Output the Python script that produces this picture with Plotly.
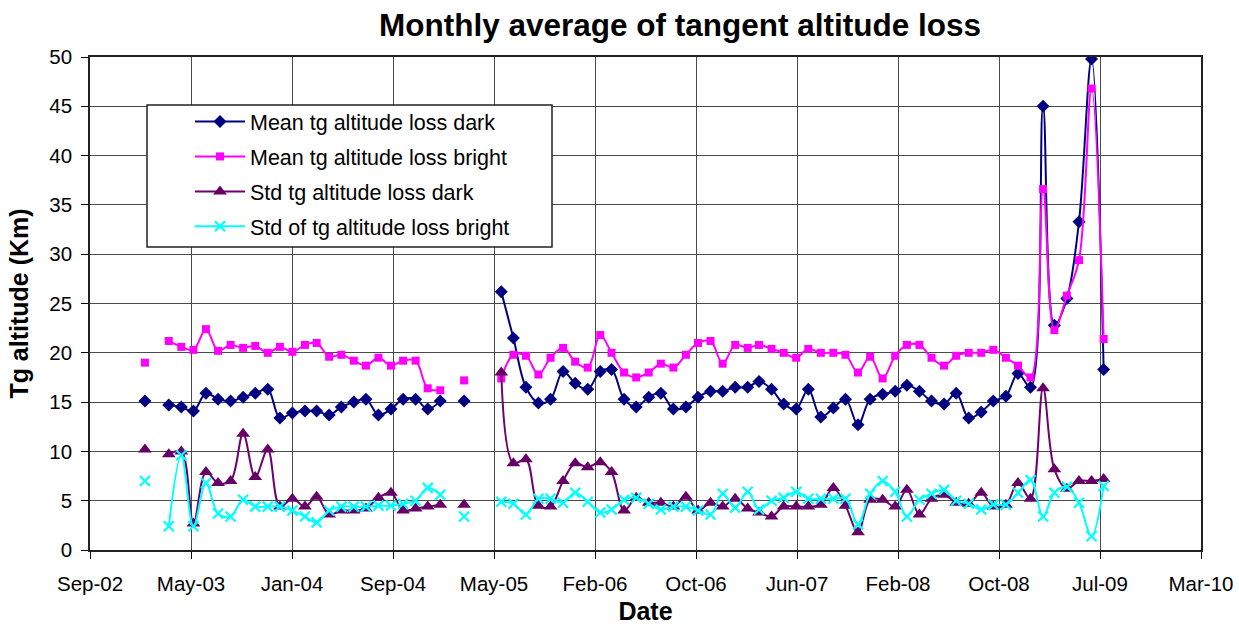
import pandas as pd
import plotly.graph_objects as go

# ---------------- data ----------------
MONTH_START = "2003-01-15"
N_MONTHS = 79  # Jan-03 .. Jul-09, monthly

MEAN_DARK = [
    15.1, None, 14.7, 14.5, 14.1, 15.9, 15.3, 15.1, 15.5, 15.9, 16.3, 13.4,   # 2003
    13.9, 14.1, 14.1, 13.7, 14.5, 15.0, 15.3, 13.7, 14.3, 15.3, 15.3, 14.3,   # 2004
    15.1, None, 15.1, None, None, 26.2, 21.5, 16.5, 14.9, 15.3, 18.1, 16.9,   # 2005
    16.3, 18.1, 18.3, 15.3, 14.5, 15.5, 15.9, 14.3, 14.5, 15.5, 16.1, 16.1,   # 2006
    16.5, 16.5, 17.1, 16.3, 14.8, 14.3, 16.3, 13.5, 14.4, 15.3, 12.7, 15.3,   # 2007
    15.8, 16.1, 16.7, 16.1, 15.1, 14.8, 15.9, 13.4, 14.0, 15.1, 15.6, 17.9,   # 2008
    16.5, 45.0, 22.8, 25.5, 33.3, 49.8, 18.3,                                 # 2009
]
MEAN_BRIGHT = [
    19.0, None, 21.2, 20.6, 20.3, 22.4, 20.2, 20.8, 20.5, 20.7, 20.0, 20.6,
    20.1, 20.8, 21.0, 19.6, 19.8, 19.2, 18.7, 19.5, 18.7, 19.2, 19.2, 16.4,
    16.2, None, 17.2, None, None, 17.4, 19.8, 19.7, 17.8, 19.5, 20.5, 19.1,
    18.5, 21.8, 20.0, 18.0, 17.5, 18.0, 18.9, 18.5, 19.8, 21.0, 21.2, 18.9,
    20.8, 20.5, 20.8, 20.4, 20.0, 19.5, 20.4, 20.0, 20.0, 19.8, 18.0, 19.6,
    17.4, 19.7, 20.8, 20.8, 19.5, 18.7, 19.7, 20.0, 20.0, 20.3, 19.5, 18.7,
    17.5, 36.6, 22.3, 25.8, 29.4, 46.8, 21.4,
]
STD_DARK = [
    10.2, None, 9.7, 10.0, 2.7, 7.9, 6.8, 7.0, 11.8, 7.4, 10.2, 4.4,
    5.2, 4.4, 5.4, 3.6, 4.0, 4.0, 4.2, 5.3, 5.8, 4.0, 4.2, 4.4,
    4.6, None, 4.6, None, None, 18.0, 8.8, 9.2, 4.5, 4.4, 7.0, 8.8,
    8.4, 8.9, 7.9, 4.0, 5.3, 4.8, 4.8, 4.4, 5.4, 4.0, 4.8, 4.4,
    5.2, 4.2, 3.8, 3.4, 4.4, 4.4, 4.4, 4.6, 6.3, 4.5, 1.8, 5.1,
    5.1, 4.4, 6.1, 3.6, 5.2, 5.6, 4.8, 4.7, 5.8, 4.4, 4.6, 6.8,
    5.2, 16.4, 8.2, 6.2, 7.0, 7.0, 7.2,
]
STD_BRIGHT = [
    7.0, None, 2.4, 9.6, 2.4, 6.8, 3.7, 3.4, 5.1, 4.4, 4.4, 4.4,
    4.0, 3.4, 2.8, 4.0, 4.4, 4.4, 4.4, 4.5, 4.5, 4.7, 5.0, 6.3,
    5.6, None, 3.4, None, None, 4.9, 4.7, 3.6, 5.2, 5.2, 4.8, 5.8,
    4.9, 3.8, 4.1, 5.1, 5.3, 4.7, 4.1, 4.4, 4.4, 4.0, 3.6, 5.7,
    4.3, 5.9, 4.1, 5.0, 5.3, 5.9, 5.2, 5.2, 5.2, 5.2, 2.6, 5.7,
    7.0, 5.9, 3.4, 5.1, 5.7, 6.1, 5.0, 4.7, 4.1, 4.6, 4.6, 5.8,
    7.1, 3.4, 5.8, 6.4, 4.8, 1.4, 6.5,
]

SERIES_NAMES = [
    "Mean tg altitude loss dark",
    "Mean tg altitude loss bright",
    "Std tg altitude loss dark",
    "Std of tg altitude loss bright",
]

AXIS_START = "2002-09-01"
TICK_STEP_DAYS = 250
TICK_LABELS = ["Sep-02", "May-03", "Jan-04", "Sep-04", "May-05", "Feb-06",
               "Oct-06", "Jun-07", "Feb-08", "Oct-08", "Jul-09", "Mar-10"]

# ---------------- figure ----------------
dates = pd.date_range(MONTH_START, periods=N_MONTHS, freq=pd.DateOffset(months=1))
start = pd.Timestamp(AXIS_START)
tickvals = [start + pd.Timedelta(days=TICK_STEP_DAYS * k) for k in range(len(TICK_LABELS))]

styles = [
    dict(line=dict(color="#000080", width=2),
         marker=dict(symbol="diamond", size=10, color="#000080")),
    dict(line=dict(color="#FF00FF", width=2),
         marker=dict(symbol="square", size=8, color="#FF00FF")),
    dict(line=dict(color="#700070", width=2),
         marker=dict(symbol="triangle-up", size=12, color="#660066")),
    dict(line=dict(color="#00FFFF", width=2),
         marker=dict(symbol="x-thin", size=10, color="#00FFFF",
                     line=dict(color="#00FFFF", width=2.2))),
]

fig = go.Figure()
for name, ys, st in zip(SERIES_NAMES, [MEAN_DARK, MEAN_BRIGHT, STD_DARK, STD_BRIGHT], styles):
    fig.add_trace(go.Scatter(
        x=dates, y=ys, name=name, mode="lines+markers",
        line=dict(shape="spline", smoothing=1.0, **st["line"]),
        marker=st["marker"], connectgaps=False, legendgroup=name,
    ))

L, R, T, B = 90, 38, 57, 75
W, H = 1239, 625
pw, ph = W - L - R, H - T - B

def px_x(p):
    return (p - L) / pw

def px_y(p):
    return (H - B - p) / ph

FONT = "Liberation Sans, Arial, sans-serif"
grid = "#4a4a4a"

fig.update_layout(
    width=W, height=H,
    margin=dict(l=L, r=R, t=T, b=B, autoexpand=False),
    plot_bgcolor="white", paper_bgcolor="white",
    font=dict(family=FONT, color="black", size=20),
    title=dict(text="<b>Monthly average of tangent altitude loss</b>",
               x=680 / W, xanchor="center", y=1 - 25 / H, yanchor="middle",
               font=dict(size=31.5, family=FONT, color="black")),
    showlegend=True,
    legend=dict(x=px_x(190), xanchor="left", y=px_y(101), yanchor="top",
                bgcolor="rgba(0,0,0,0)", borderwidth=0,
                font=dict(size=21.5, family=FONT, color="black"),
                itemwidth=50, tracegroupgap=4),
    shapes=[dict(type="rect", xref="paper", yref="paper",
                 x0=px_x(147), x1=px_x(552), y0=px_y(247), y1=px_y(105),
                 line=dict(color="#222222", width=1.5), fillcolor="white",
                 layer="above")],
)

fig.update_xaxes(
    type="date", range=[start, start + pd.Timedelta(days=TICK_STEP_DAYS * (len(TICK_LABELS) - 1))],
    tickmode="array", tickvals=tickvals, ticktext=TICK_LABELS,
    ticks="outside", ticklen=7, tickcolor="black", ticklabelstandoff=7,
    showgrid=True, gridcolor=grid, gridwidth=1,
    showline=True, linecolor="#222222", linewidth=2, mirror=True,
    zeroline=False,
    tickfont=dict(size=20.5, family=FONT, color="black"),
    title=dict(text="<b>Date</b>", font=dict(size=25, family=FONT, color="black"), standoff=10),
)
fig.update_yaxes(
    range=[0, 50], dtick=5, tick0=0,
    ticks="outside", ticklen=7, tickcolor="black", ticklabelstandoff=5,
    showgrid=True, gridcolor=grid, gridwidth=1,
    showline=True, linecolor="#222222", linewidth=1.5, mirror=True,
    zeroline=False,
    tickfont=dict(size=20.5, family=FONT, color="black"),
    title=dict(text="<b>Tg altitude (Km)</b>", font=dict(size=25, family=FONT, color="black"), standoff=14),
)

fig.write_html("out.html", config={"displayModeBar": False},
               post_script="document.body.style.margin='0';")
